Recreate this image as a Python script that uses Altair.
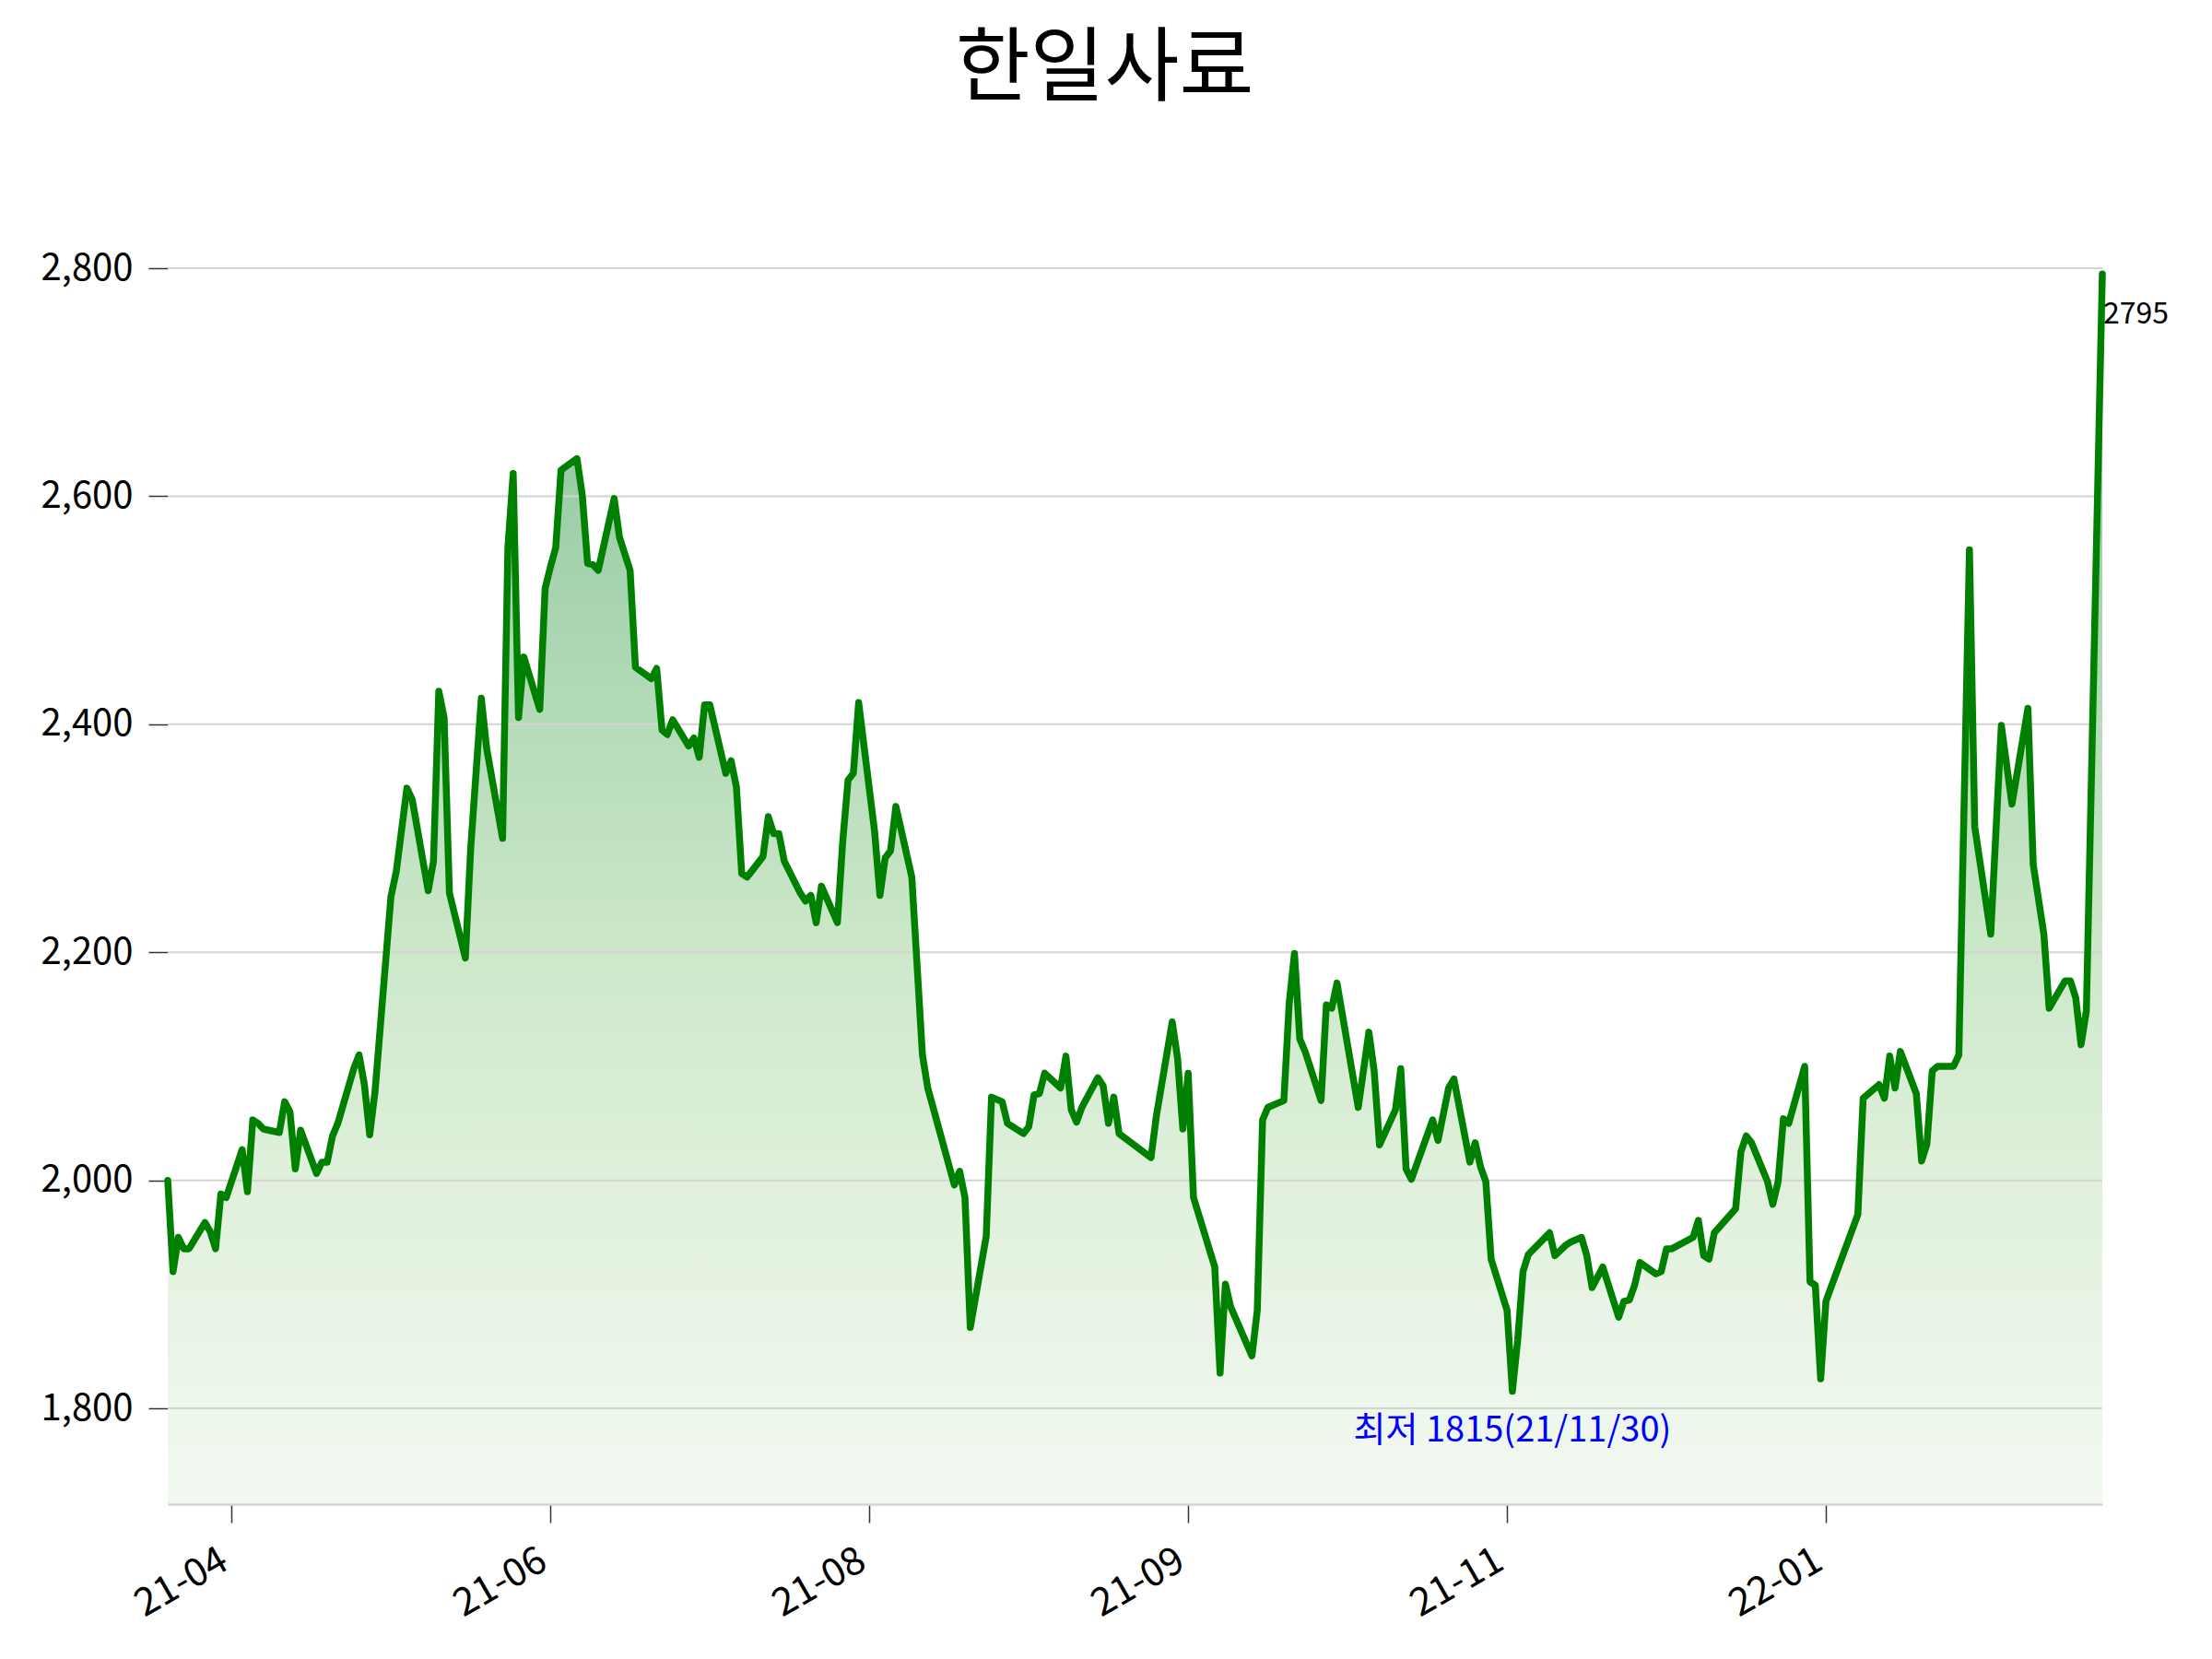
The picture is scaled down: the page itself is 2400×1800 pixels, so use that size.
import altair as alt
import pandas as pd

TITLE = "한일사료"
START_DATE = "2021-03-22"

# calendar-day offsets from START_DATE and the closing price read at each vertex
day_offsets = [
    0, 1, 2, 3, 4, 7, 8, 9, 10, 11, 14, 15, 16, 17, 18, 21, 22, 23, 24, 25,
    28, 29, 30, 31, 32, 35, 36, 37, 38, 39, 42, 43, 45, 46, 49, 50, 51, 52, 53, 56,
    57, 59, 60, 63, 64, 65, 66, 67, 70, 71, 72, 73, 74, 77, 78, 79, 80, 81, 84, 85,
    87, 88, 91, 92, 93, 94, 95, 98, 99, 100, 101, 102, 105, 106, 107, 108, 109, 112, 113, 114,
    115, 116, 119, 120, 121, 122, 123, 126, 127, 128, 129, 130, 133, 134, 135, 136, 137, 140, 142, 143,
    148, 149, 150, 151, 154, 155, 157, 158, 161, 162, 163, 164, 165, 168, 169, 170, 171, 172, 175, 176,
    177, 178, 179, 185, 186, 189, 190, 191, 192, 193, 197, 198, 199, 200, 204, 205, 206, 207, 210, 211,
    212, 213, 214, 217, 218, 219, 220, 224, 226, 227, 228, 231, 232, 233, 234, 238, 239, 241, 242, 245,
    246, 247, 248, 249, 252, 253, 254, 255, 256, 260, 261, 263, 264, 266, 267, 268, 270, 273, 274, 275,
    276, 277, 280, 281, 282, 283, 287, 288, 289, 290, 291, 295, 296, 297, 298, 301, 302, 303, 304, 305,
    308, 309, 310, 311, 312, 318, 319, 322, 323, 324, 325, 326, 329, 330, 331, 332, 333, 336, 337, 339,
    340, 343, 345, 347, 350, 351, 353, 354, 357, 358, 359, 360, 361, 364,
]
prices = [
    2000, 1920, 1950, 1940, 1940, 1963, 1955, 1940, 1988, 1985, 2027, 1990, 2053, 2050, 2045, 2042, 2069, 2060, 2010, 2044,
    2006, 2016, 2016, 2039, 2050, 2098, 2110, 2084, 2040, 2078, 2249, 2271, 2344, 2334, 2254, 2280, 2429, 2406, 2252, 2195,
    2291, 2423, 2379, 2300, 2555, 2620, 2406, 2459, 2413, 2519, 2538, 2555, 2623, 2633, 2601, 2541, 2540, 2535, 2598, 2564,
    2535, 2450, 2440, 2449, 2395, 2391, 2404, 2381, 2388, 2371, 2417, 2417, 2357, 2368, 2345, 2269, 2266, 2284, 2319, 2304,
    2304, 2280, 2252, 2245, 2250, 2226, 2258, 2226, 2297, 2351, 2357, 2419, 2306, 2250, 2283, 2289, 2328, 2266, 2110, 2081,
    1996, 2008, 1985, 1871, 1951, 2073, 2069, 2050, 2041, 2047, 2075, 2076, 2094, 2081, 2109, 2062, 2051, 2064, 2090, 2083,
    2050, 2073, 2041, 2020, 2056, 2139, 2107, 2045, 2094, 1985, 1924, 1831, 1909, 1889, 1846, 1886, 2053, 2064, 2070, 2155,
    2199, 2124, 2113, 2070, 2154, 2151, 2173, 2064, 2130, 2096, 2031, 2062, 2098, 2010, 2001, 2053, 2035, 2081, 2089, 2016,
    2033, 2012, 1999, 1931, 1886, 1815, 1860, 1920, 1935, 1954, 1934, 1943, 1946, 1950, 1934, 1906, 1924, 1880, 1894, 1895,
    1908, 1928, 1918, 1920, 1940, 1940, 1950, 1965, 1934, 1931, 1954, 1975, 2025, 2039, 2033, 1999, 1979, 1999, 2054, 2050,
    2100, 1911, 1908, 1826, 1894, 1970, 2072, 2084, 2072, 2109, 2081, 2113, 2076, 2017, 2032, 2096, 2100, 2100, 2110, 2553,
    2310, 2216, 2399, 2330, 2414, 2277, 2216, 2151, 2175, 2175, 2160, 2119, 2149, 2795,
]

y_ticks = [1800, 2000, 2200, 2400, 2600, 2800]
y_domain = [1716, 2893]
x_tick_dates = ["2021-04-03", "2021-06-02", "2021-08-01", "2021-09-30", "2021-11-29", "2022-01-28"]
x_domain = ["2021-03-22", "2022-03-21"]

FONT = "Noto Sans CJK KR"


def dt(s):
    t = pd.Timestamp(s)
    return alt.DateTime(year=t.year, month=t.month, date=t.day)


dates = pd.Timestamp(START_DATE) + pd.to_timedelta(day_offsets, unit="D")
df = pd.DataFrame({"date": dates.strftime("%Y-%m-%dT00:00:00"), "price": prices})

imin = int(pd.Series(prices).idxmin())
min_df = pd.DataFrame({
    "date": [df["date"][imin]],
    "price": [prices[imin]],
    "label": [f"최저 {prices[imin]}({dates[imin]:%y/%m/%d})"],
})
last_df = pd.DataFrame({
    "date": [df["date"].iloc[-1]],
    "price": [prices[-1]],
    "label": [str(prices[-1])],
})
grid_df = pd.DataFrame({"price": y_ticks})

x_scale = alt.Scale(domain=[dt(x_domain[0]), dt(x_domain[1])])
y_scale = alt.Scale(domain=y_domain, zero=False, nice=False)

x_axis = alt.Axis(
    values=[dt(s) for s in x_tick_dates], format="%y-%m", formatType="time",
    title=None, grid=False, domain=True, domainColor="#d3d3d3", domainWidth=2.5,
    ticks=True, tickSize=20, tickColor="#333333", tickWidth=1.5,
    labelFont=FONT, labelFontSize=42, labelColor="#000000",
    labelAngle=330, labelAlign="right", labelBaseline="top", labelPadding=20,
    labelOffset=-18, zindex=1,
)
y_axis = alt.Axis(
    values=y_ticks, format=",d", formatType="number", title=None, grid=False, domain=False,
    ticks=True, tickSize=21, tickColor="#333333", tickWidth=1.5,
    labelFont=FONT, labelFontSize=40, labelColor="#000000", labelPadding=17,
)

gradient = alt.Gradient(
    gradient="linear",
    stops=[
        alt.GradientStop(color="#8ec59b", offset=0),
        alt.GradientStop(color="#9acda6", offset=0.16),
        alt.GradientStop(color="#cce8c9", offset=0.55),
        alt.GradientStop(color="#e0f0dc", offset=0.74),
        alt.GradientStop(color="#f3f9f2", offset=1),
    ],
    x1=1, x2=1, y1=0, y2=1,
)

base = alt.Chart(df)

area = base.mark_area(color=gradient).encode(
    x=alt.X("date:T", scale=x_scale, axis=x_axis),
    y=alt.Y("price:Q", scale=y_scale, axis=y_axis),
    y2=alt.datum(y_domain[0]),
)

grid = alt.Chart(grid_df).mark_rule(color="#d3d3d3", strokeWidth=2).encode(
    y=alt.Y("price:Q", scale=y_scale, axis=y_axis),
)

line = base.mark_line(color="#008000", strokeWidth=7.5, strokeJoin="round", strokeCap="round").encode(
    x=alt.X("date:T", scale=x_scale, axis=x_axis),
    y=alt.Y("price:Q", scale=y_scale, axis=y_axis),
)

min_text = alt.Chart(min_df).mark_text(
    font=FONT, fontSize=38, color="#0000ff", align="center", baseline="alphabetic", dy=54,
).encode(
    x=alt.X("date:T", scale=x_scale, axis=x_axis),
    y=alt.Y("price:Q", scale=y_scale, axis=y_axis),
    text="label:N",
)

last_text = alt.Chart(last_df).mark_text(
    font=FONT, fontSize=32, color="#000000", align="left", baseline="alphabetic", dx=1, dy=54,
).encode(
    x=alt.X("date:T", scale=x_scale, axis=x_axis),
    y=alt.Y("price:Q", scale=y_scale, axis=y_axis),
    text="label:N",
)

chart = alt.layer(area, grid, line, min_text, last_text).properties(
    width=2099,
    height=1456,
    background="white",
    autosize=alt.AutoSizeParams(type="none"),
    padding={"left": 182, "top": 176, "right": 119, "bottom": 168},
    title=alt.TitleParams(
        text=TITLE, font=FONT, fontSize=88, fontWeight="normal", color="#000000",
        anchor="middle", frame="bounds", baseline="alphabetic", offset=-14,
    ),
).configure_view(strokeWidth=0, stroke="transparent")

chart.save("out.html", embed_options={"renderer": "svg", "actions": False})
